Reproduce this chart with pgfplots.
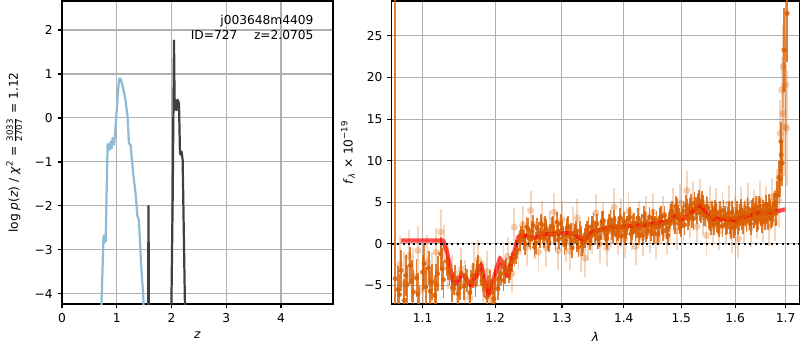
\documentclass[border=0pt]{standalone}
\usepackage{pgfplots}
\pgfplotsset{compat=1.18}
\usepackage{pgfplotstable}
\usepackage{fontspec}
\setmainfont{DejaVu Sans}
\definecolor{dorange}{HTML}{D95F02}
\definecolor{lblue}{HTML}{8FBBD9}
\definecolor{gridgray}{HTML}{B0B0B0}
\definecolor{dgray}{HTML}{404040}
\pgfplotsset{
  mpl/.style={
    scale only axis,
    axis line style={black, line width=0.8pt},
    tick align=outside, major tick length=3.2pt,
    tick style={black, line width=0.8pt},
    tick pos=left,
    grid=major, grid style={gridgray, line width=0.75pt},
    ticklabel style={font=\fontsize{8.8}{10.5}\selectfont},
    label style={font=\fontsize{8.8}{10.5}\selectfont},
  }
}
\pgfplotstableread{
x y e
1.0645 -4.2 40
1.068 -5.5 2.8
1.072 -3.2 2.5
1.076 -6.8 2.6
1.080 -4.9 2.4
1.084 -2.6 2.2
1.088 -5.8 2.7
1.092 -4.1 2.3
1.096 -7.9 2.8
1.100 -3.4 2.1
1.104 -5.2 2.4
1.108 -2.9 2.0
1.112 -4.6 2.2
1.116 -6.2 2.5
1.120 -3.6 2.1
1.124 -1.2 2.0
1.128 -4.3 2.2
1.070 -6.1 2.5
1.078 -3.8 2.5
1.086 -4.5 2.5
1.094 -6.0 2.5
1.102 -2.4 2.5
1.110 -5.7 2.5
1.118 -4.9 2.5
1.126 -3.0 2.5
1.132 -2.1 1.8
1.136 -3.4 1.6
1.140 -5.3 1.7
1.144 -4.1 1.5
1.148 -6.0 1.6
1.152 -3.5 1.5
1.156 -5.1 1.6
1.160 -4.4 1.4
1.164 -5.9 1.6
1.168 -3.8 1.5
1.172 -4.9 1.5
1.176 -2.7 1.4
1.180 -3.6 1.5
1.184 -5.0 1.4
1.188 -6.4 1.6
1.192 -4.7 1.5
1.196 -5.8 1.4
1.200 -4.3 1.3
1.204 -5.4 1.4
1.208 -3.6 1.3
1.212 -4.4 1.3
1.216 -2.9 1.2
1.220 -3.5 1.2
1.224 -2.2 1.2
1.228 -1.6 1.1
1.232 -0.7 1.1
1.134 -3.0 1.4
1.142 -4.8 1.4
1.150 -5.3 1.4
1.158 -3.9 1.4
1.166 -4.6 1.4
1.174 -3.3 1.4
1.182 -4.4 1.4
1.190 -5.2 1.4
1.198 -6.6 1.4
1.206 -4.1 1.4
1.214 -3.4 1.4
1.222 -2.9 1.4
1.230 -1.0 1.4
1.236 0.4 1.3
1.240 1.5 1.3
1.244 0.0 1.3
1.248 1.8 1.3
1.252 0.5 1.3
1.256 2.2 1.3
1.260 0.1 1.3
1.264 1.3 1.3
1.268 2.4 1.2
1.272 0.7 1.2
1.276 1.8 1.2
1.280 0.2 1.2
1.284 2.0 1.2
1.288 1.0 1.2
1.292 2.6 1.2
1.296 0.6 1.2
1.300 1.7 1.2
1.304 -0.1 1.2
1.308 1.9 1.2
1.312 0.8 1.2
1.316 -0.5 1.2
1.320 1.2 1.2
1.324 0.2 1.2
1.328 1.5 1.2
1.332 -0.3 1.2
1.336 0.7 1.2
1.340 1.6 1.2
1.344 0.4 1.2
1.348 2.1 1.2
1.352 1.1 1.2
1.356 2.4 1.2
1.360 0.8 1.2
1.364 2.7 1.2
1.368 1.5 1.2
1.372 0.6 1.2
1.376 2.4 1.2
1.380 1.7 1.2
1.384 2.9 1.2
1.388 1.1 1.2
1.392 2.1 1.2
1.396 0.9 1.2
1.400 2.6 1.2
1.404 1.8 1.2
1.408 3.0 1.2
1.412 1.2 1.2
1.416 2.3 1.2
1.420 1.5 1.2
1.424 3.1 1.2
1.428 1.9 1.2
1.432 1.0 1.2
1.436 2.7 1.2
1.440 1.8 1.2
1.444 3.2 1.2
1.448 2.1 1.2
1.452 1.2 1.2
1.456 2.8 1.2
1.460 2.0 1.2
1.464 3.3 1.2
1.468 1.5 1.2
1.472 2.5 1.2
1.476 1.0 1.2
1.480 3.0 1.2
1.484 3.9 1.3
1.488 2.5 1.3
1.492 4.2 1.3
1.496 3.0 1.3
1.500 2.1 1.3
1.504 3.9 1.3
1.508 4.6 1.3
1.512 3.0 1.3
1.516 4.2 1.3
1.520 3.2 1.3
1.524 4.9 1.3
1.528 3.7 1.3
1.532 5.2 1.3
1.536 3.8 1.3
1.540 4.6 1.3
1.544 3.3 1.3
1.548 4.3 1.3
1.552 2.8 1.3
1.556 3.8 1.3
1.560 2.3 1.3
1.564 3.6 1.3
1.568 2.6 1.3
1.572 3.9 1.3
1.576 2.1 1.3
1.580 3.3 1.3
1.584 2.5 1.3
1.588 3.7 1.3
1.592 1.9 1.3
1.596 3.1 1.3
1.600 2.3 1.3
1.604 3.8 1.3
1.608 2.8 1.3
1.612 4.1 1.3
1.616 2.5 1.3
1.620 3.5 1.3
1.624 4.3 1.3
1.628 2.9 1.3
1.632 4.0 1.3
1.636 3.2 1.3
1.640 4.4 1.3
1.644 2.9 1.3
1.648 4.1 1.3
1.652 2.6 1.3
1.656 3.7 1.3
1.660 4.6 1.3
1.664 3.1 1.3
1.668 4.1 1.3
1.672 3.3 1.3
1.676 4.7 1.4
1.680 3.7 1.5
1.238 1.0 1.2
1.242 0.4 1.2
1.246 2.0 1.2
1.250 0.8 1.2
1.254 1.5 1.2
1.258 -0.4 1.2
1.262 1.9 1.2
1.266 0.7 1.2
1.270 1.3 1.2
1.274 2.2 1.2
1.278 0.4 1.2
1.282 1.2 1.2
1.286 2.1 1.2
1.290 0.5 1.2
1.294 1.4 1.2
1.298 2.4 1.2
1.302 1.0 1.2
1.306 0.4 1.2
1.310 2.1 1.2
1.314 1.3 1.2
1.318 0.5 1.2
1.322 1.6 1.2
1.326 -0.4 1.2
1.330 0.9 1.2
1.334 0.1 1.2
1.338 1.2 1.2
1.342 2.0 1.2
1.346 0.9 1.2
1.350 2.5 1.2
1.354 1.5 1.2
1.358 0.6 1.2
1.362 1.7 1.2
1.366 2.8 1.2
1.370 1.1 1.2
1.374 1.8 1.2
1.378 2.9 1.2
1.382 1.3 1.2
1.386 2.1 1.2
1.390 1.5 1.2
1.394 3.1 1.2
1.398 1.9 1.2
1.402 1.1 1.2
1.406 2.2 1.2
1.410 3.2 1.2
1.414 1.6 1.2
1.418 2.5 1.2
1.422 1.9 1.2
1.426 1.1 1.2
1.430 2.4 1.2
1.434 3.3 1.2
1.438 1.4 1.2
1.442 2.3 1.2
1.446 1.5 1.2
1.450 3.0 1.2
1.454 2.2 1.2
1.458 1.2 1.2
1.462 3.1 1.2
1.466 2.3 1.2
1.470 3.4 1.2
1.474 1.8 1.2
1.478 2.6 1.2
1.482 3.5 1.3
1.486 2.9 1.3
1.490 4.5 1.3
1.494 3.4 1.3
1.498 2.5 1.3
1.502 3.3 1.3
1.506 2.3 1.3
1.510 4.1 1.3
1.514 3.5 1.3
1.518 4.7 1.3
1.522 3.0 1.3
1.526 4.3 1.3
1.530 4.8 1.3
1.534 4.0 1.3
1.538 5.1 1.3
1.542 3.4 1.3
1.546 4.5 1.3
1.550 3.1 1.3
1.554 2.4 1.3
1.558 3.2 1.3
1.562 4.0 1.3
1.566 2.7 1.3
1.570 2.1 1.3
1.574 3.3 1.3
1.578 4.0 1.3
1.582 2.4 1.3
1.586 3.1 1.3
1.590 2.5 1.3
1.594 3.8 1.3
1.598 2.0 1.3
1.602 3.1 1.3
1.606 2.4 1.3
1.610 3.5 1.3
1.614 3.0 1.3
1.618 3.9 1.3
1.622 2.7 1.3
1.626 3.6 1.3
1.630 2.4 1.3
1.634 4.2 1.3
1.638 3.6 1.3
1.642 2.7 1.3
1.646 4.5 1.3
1.650 3.5 1.3
1.654 4.0 1.3
1.658 2.9 1.3
1.662 3.7 1.3
1.666 4.7 1.3
1.670 3.2 1.3
1.674 3.9 1.3
1.678 4.9 1.4
1.683 5.8 1.8
1.686 8.0 2.0
1.688 7.8 2.2
1.690 12.3 2.4
1.691 10.7 2.2
1.693 9.7 2.7
1.6965 23.3 5.0
1.7032 27.7 5.8
}\darkdata
\pgfplotstableread{
x y e
1.070 -2.5 3.4
1.076 -4.8 3.8
1.082 -1.5 3.2
1.088 -3.9 3.4
1.094 -0.8 3.0
1.100 -5.5 3.5
1.106 -2.2 3.2
1.112 -4.4 3.4
1.118 -1.0 2.9
1.124 1.4 2.8
1.128 -0.5 2.8
1.134 -2.8 2.6
1.140 -4.0 2.7
1.146 -5.8 2.6
1.152 -3.0 2.5
1.158 -4.6 2.6
1.164 -6.5 2.7
1.170 -2.8 2.5
1.176 -1.9 2.4
1.182 -4.5 2.5
1.188 -3.3 2.4
1.194 -6.8 2.6
1.200 -5.0 2.4
1.206 -3.8 2.4
1.212 -2.4 2.3
1.218 -1.5 2.3
1.224 -3.6 2.3
1.228 2.0 2.3
1.234 -0.9 2.3
1.240 2.3 2.3
1.246 -0.4 2.3
1.252 4.0 2.3
1.258 0.5 2.3
1.264 -1.0 2.3
1.270 2.8 2.3
1.276 -0.5 2.3
1.282 1.8 2.3
1.288 3.8 2.3
1.294 -0.8 2.3
1.300 2.9 2.3
1.306 0.1 2.3
1.312 -0.9 2.3
1.318 2.1 2.3
1.324 3.1 2.3
1.330 -1.1 2.3
1.336 -1.7 2.3
1.342 0.2 2.3
1.348 1.1 2.3
1.354 3.7 2.3
1.360 0.0 2.3
1.366 2.7 2.3
1.372 -0.5 2.3
1.378 1.9 2.3
1.384 4.4 2.3
1.390 0.9 2.3
1.396 3.1 2.3
1.402 0.6 2.3
1.408 3.9 2.3
1.414 1.5 2.3
1.420 -0.3 2.3
1.426 2.9 2.3
1.432 0.8 2.3
1.438 3.4 2.3
1.444 1.2 2.3
1.450 3.8 2.3
1.456 0.5 2.3
1.462 2.2 2.3
1.468 3.5 2.3
1.474 1.0 2.3
1.480 2.6 2.3
1.486 4.4 2.3
1.492 1.6 2.3
1.498 4.9 2.3
1.504 2.3 2.3
1.510 6.4 2.3
1.516 3.0 2.3
1.522 5.2 2.3
1.528 2.1 2.3
1.534 5.5 2.3
1.540 3.3 2.3
1.546 1.0 2.3
1.552 4.7 2.3
1.558 2.0 2.3
1.564 4.4 2.3
1.570 1.5 2.3
1.576 3.9 2.3
1.582 2.2 2.3
1.588 4.8 2.3
1.594 1.2 2.3
1.600 3.3 2.3
1.606 0.6 2.3
1.612 4.5 2.3
1.618 2.4 2.3
1.624 5.0 2.3
1.630 1.9 2.3
1.636 4.2 2.3
1.642 2.9 2.3
1.648 5.3 2.3
1.654 2.5 2.3
1.660 4.6 2.3
1.666 2.0 2.3
1.672 5.6 2.3
1.678 2.6 2.3
1.682 6.2 2.8
1.686 5.2 3.2
1.689 13.3 4.0
1.692 18.5 4.0
1.694 15.7 3.5
1.695 21.3 5.0
1.697 14.1 6.0
1.700 19.1 6.0
1.702 13.9 7.0
}\lightdata
\pgfplotstableread{
x y
1.0718 0.4
1.1276 0.4
1.133 -1.1
1.141 -4.7
1.145 -4.8
1.152 -3.7
1.158 -4.0
1.165 -5.0
1.180 -2.5
1.190 -6.3
1.207 -1.7
1.218 -3.9
1.234 0.9
1.246 0.9
1.258 0.7
1.276 1.16
1.3125 1.3
1.323 1.0
1.334 0.4
1.350 1.5
1.383 2.0
1.439 2.3
1.477 2.7
1.488 3.4
1.499 2.9
1.511 3.3
1.531 4.7
1.543 3.9
1.552 3.0
1.577 3.0
1.597 2.8
1.617 3.2
1.642 3.7
1.675 3.8
1.699 4.15
}\modeldata
\begin{document}
\begin{tikzpicture}
\path[use as bounding box] (0,0) rectangle (576pt,252pt);
% ---------------- left panel ----------------
\begin{axis}[mpl,
  at={(44.64pt,33.12pt)}, anchor=south west,
  width=195.12pt, height=218.16pt,
  xmin=0, xmax=4.95, ymin=-4.23, ymax=2.66,
  xtick={0,1,2,3,4}, xticklabels={0,1,2,3,4},
  ytick={-4,-3,-2,-1,0,1,2}, yticklabels={−4,−3,−2,−1,0,1,2},
  xlabel={\textit{z}},
  ylabel={log \textit{p}(\textit{z}) / \textit{χ}\textsuperscript{2} = $\frac{\mbox{\fontsize{6.2}{6.2}\selectfont 3033}}{\mbox{\fontsize{6.2}{6.2}\selectfont 2707}}$ = 1.12},
  ylabel style={yshift=2pt},
]
\addplot[lblue, line width=1.6pt, line join=round] coordinates {
(0.712,-4.6) (0.757,-2.75) (0.762,-2.68) (0.768,-2.85) (0.772,-2.72) (0.797,-2.81)
(0.833,-0.59) (0.864,-0.73) (0.888,-0.54) (0.906,-0.69) (0.924,-0.46) (0.949,-0.61)
(0.967,-0.39) (1.03,0.70) (1.045,0.88) (1.06,0.90) (1.075,0.87) (1.10,0.75)
(1.12,0.66) (1.16,0.41) (1.198,0.03) (1.223,-0.58) (1.253,-0.61) (1.30,-1.26)
(1.35,-1.79) (1.375,-2.21) (1.405,-2.32) (1.44,-3.23) (1.485,-4.07) (1.50,-4.6)
};
\addplot[dgray, line width=1.6pt, line join=round] coordinates {
(1.572,-4.6) (1.580,-2.0) (1.588,-4.6)
};
\addplot[dgray, line width=1.6pt, line join=round] coordinates {
(1.995,-4.6) (2.021,-1.87) (2.046,1.76) (2.058,0.18) (2.076,0.41) (2.094,0.18)
(2.113,0.41) (2.137,0.33) (2.155,-0.80) (2.174,-0.84) (2.186,-0.77) (2.204,-0.96)
(2.25,-4.6)
};
\node[anchor=base east, font=\fontsize{8.8}{10.5}\selectfont] at (axis description cs:0.946,0.924) {j003648m4409};
\node[anchor=base east, font=\fontsize{8.8}{10.5}\selectfont] at (axis description cs:0.946,0.874) {ID=727\hspace{12pt}z=2.0705};
\end{axis}
% ---------------- right panel ----------------
\begin{axis}[mpl,
  at={(282.02pt,33.12pt)}, anchor=south west,
  width=293.47pt, height=218.16pt,
  xmode=log, xmin=1.06, xmax=1.728, ymin=-7.24, ymax=29.2,
  xtick={1.1,1.2,1.3,1.4,1.5,1.6,1.7},
  xticklabels={1.1,1.2,1.3,1.4,1.5,1.6,1.7},
  ytick={-5,0,5,10,15,20,25}, yticklabels={−5,0,5,10,15,20,25},
  xlabel={\textit{λ}},
  ylabel={\textit{f}\textsubscript{\textit{λ}} × 10\textsuperscript{−19}},
]
\addplot[dorange, only marks, mark=*, mark size=2.6pt,
  mark options={draw=dorange, fill=dorange, draw opacity=0, fill opacity=0.3},
  error bars/.cd, y dir=both, y explicit, error mark=none,
  error bar style={dorange, opacity=0.25, line width=1.4pt}]
  table[x=x, y=y, y error=e] {\lightdata};
\addplot[dorange, only marks, mark=*, mark size=1.8pt,
  mark options={draw=dorange, fill=dorange, draw opacity=0, fill opacity=0.85},
  error bars/.cd, y dir=both, y explicit, error mark=none,
  error bar style={dorange, opacity=0.8, line width=1.3pt}]
  table[x=x, y=y, y error=e] {\darkdata};
\addplot[red, opacity=0.7, line width=3pt, line join=round] table[x=x, y=y] {\modeldata};
\addplot[black, line width=1.5pt, dash pattern=on 1.5pt off 2.4pt] coordinates {(1.06,0) (1.728,0)};
\node[anchor=base east, font=\fontsize{5.5}{6}\selectfont] at (axis description cs:0.972,-0.115) {Thu Apr 23 22:11:53 2020};
\end{axis}
\end{tikzpicture}
\end{document}
